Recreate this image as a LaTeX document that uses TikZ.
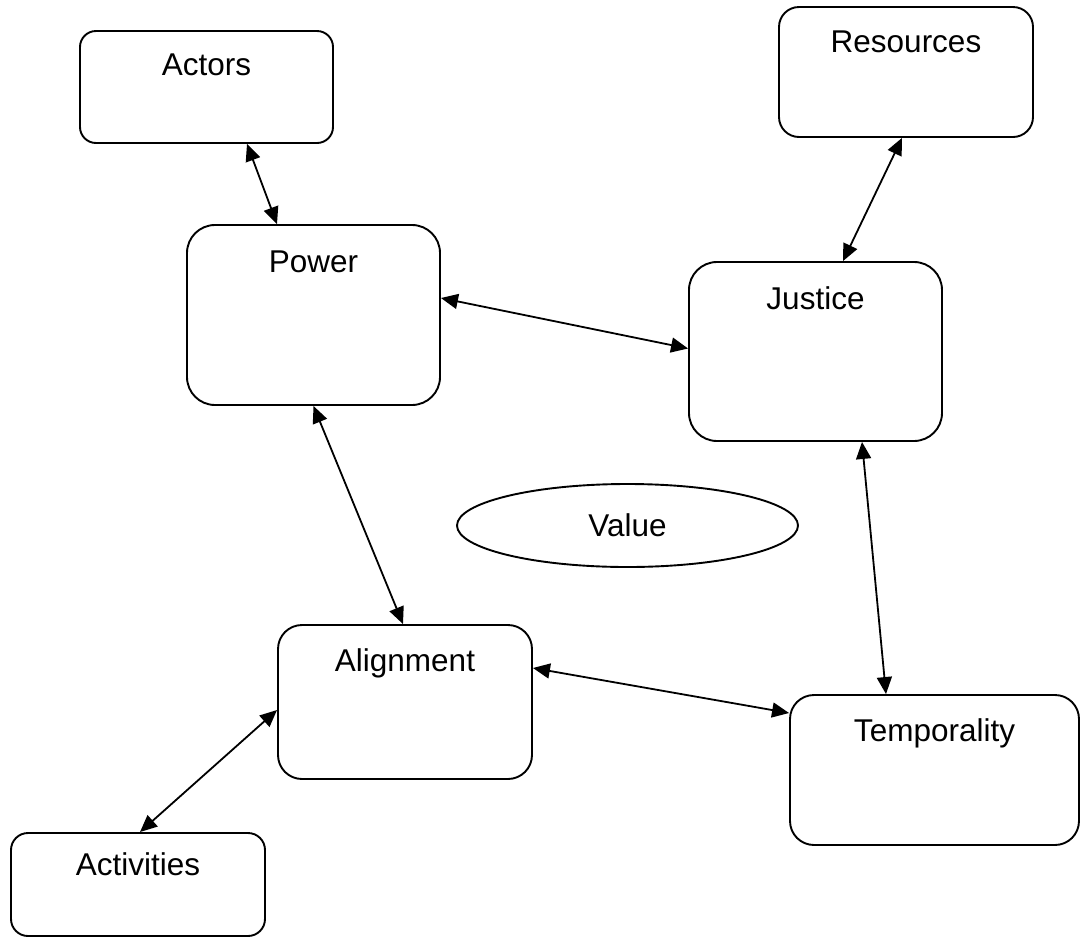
\documentclass[tikz,border=0pt]{standalone}
\usepackage{fontspec}
\setmainfont{Liberation Sans}
\usetikzlibrary{arrows.meta,shapes.geometric}

\tikzset{
  concept/.style={draw=black, line width=1.9pt, fill=white, inner sep=0pt},
  boxlabel/.style={anchor=base, yshift=-#1, font=\fontsize{31.5}{36}\selectfont, inner sep=0pt},
  link/.style={line width=1.8pt, {Triangle[length=17pt,width=15pt]}-{Triangle[length=17pt,width=15pt]}}
}

\begin{document}
\begin{tikzpicture}[x=1pt, y=-1pt]
  \useasboundingbox (0,0) rectangle (1080,938);

  % concept boxes
  \node[concept, rounded corners=16pt, minimum width=253pt, minimum height=112pt,
        label={[boxlabel=45pt]north:Actors}] (actors) at (206.5,87) {};
  \node[concept, rounded corners=20pt, minimum width=254pt, minimum height=130pt,
        label={[boxlabel=46pt]north:Resources}] (resources) at (906,72) {};
  \node[concept, rounded corners=28pt, minimum width=253pt, minimum height=180pt,
        label={[boxlabel=48pt]north:Power}] (power) at (313.5,315) {};
  \node[concept, rounded corners=28pt, minimum width=253pt, minimum height=179pt,
        label={[boxlabel=48pt]north:Justice}] (justice) at (815.5,351.5) {};
  \node[concept, rounded corners=24pt, minimum width=254pt, minimum height=154pt,
        label={[boxlabel=47pt]north:Alignment}] (alignment) at (405,702) {};
  \node[concept, rounded corners=24pt, minimum width=289pt, minimum height=150pt,
        label={[boxlabel=47pt]north:Temporality}] (temporality) at (934.5,770) {};
  \node[concept, rounded corners=17pt, minimum width=254pt, minimum height=103pt,
        label={[boxlabel=43pt]north:Activities}] (activities) at (138,884.5) {};

  % central ellipse
  \node[concept, ellipse, minimum width=341pt, minimum height=83pt,
        font=\fontsize{31.5}{36}\selectfont] (value) at (627.5,525.5) {Value};

  % two-way links
  \draw[link] ([xshift=40.5pt]actors.south) -- ([xshift=-36.5pt]power.north);
  \draw[link] ([xshift=-4pt]resources.south) -- ([xshift=27.5pt]justice.north);
  \draw[link] ([yshift=17pt]power.east) -- ([yshift=3pt]justice.west);
  \draw[link] (power.south) -- ([xshift=-2pt]alignment.north);
  \draw[link] ([xshift=46.5pt]justice.south) -- ([xshift=-48.5pt]temporality.north);
  \draw[link] ([yshift=34pt]alignment.east) -- ([yshift=57pt]temporality.west);
  \draw[link] ([yshift=-8pt]alignment.west) -- ([xshift=2pt]activities.north);
\end{tikzpicture}
\end{document}
